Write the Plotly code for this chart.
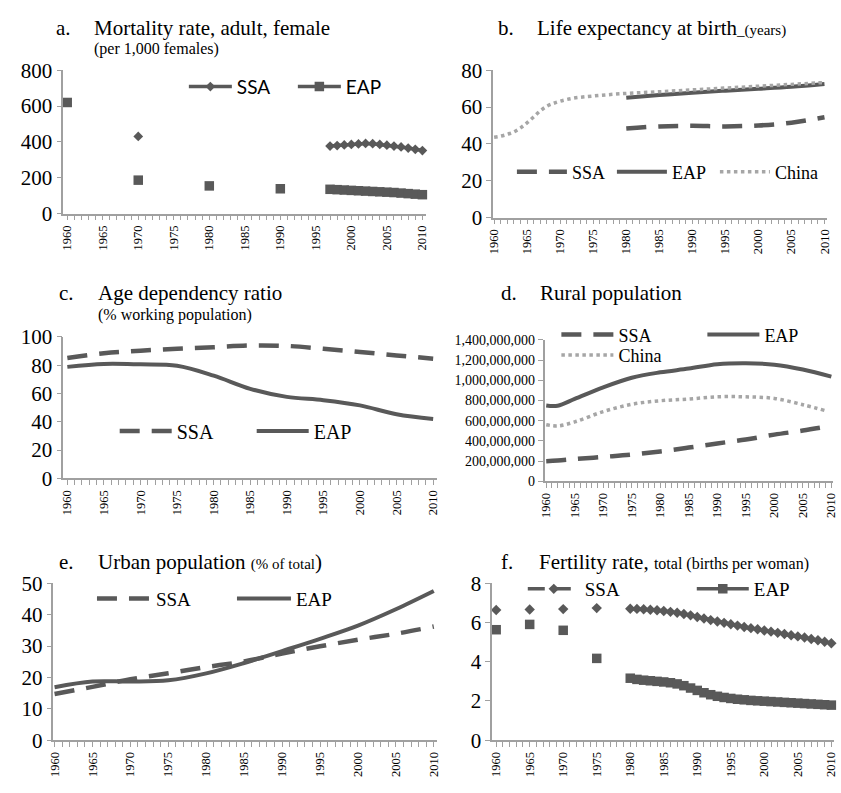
import plotly.graph_objects as go

W, H = 841, 793
SERIF = "Liberation Serif"
SANS = "Lato"
DARK = "#595959"
LIGHT = "#a6a6a6"
AXIS = "#a0a0a0"
YEARS = list(range(1960, 2011))


def annual(years, values):
    m = dict(zip(years, values))
    return [m.get(y) for y in YEARS]


# ---------------- data ----------------
# a. Mortality rate, adult, female (per 1,000 females)
mort_ssa_years = [1970] + list(range(1997, 2011))
mort_ssa = [431, 377, 380, 383, 386, 389, 392, 390, 386, 382, 377, 372, 366, 359, 352]
mort_eap_years = [1960, 1970, 1980, 1990] + list(range(1997, 2011))
mort_eap = [620, 187, 155, 139, 136, 134, 132, 130, 128, 126, 124, 122, 120, 118, 115, 112, 109, 106]

# b. Life expectancy at birth (years)
life_china_years = [1960, 1961, 1962, 1963, 1964, 1965, 1966, 1967, 1968, 1969, 1970, 1972, 1975,
                    1980, 1985, 1990, 1995, 2000, 2005, 2010]
life_china = [43.6, 44.2, 45.2, 46.5, 48.7, 51.5, 54.7, 58.0, 60.5, 62.0, 63.2, 64.8, 66.0,
              67.4, 68.3, 69.3, 70.3, 71.3, 72.3, 73.3]
life_years = [1980, 1985, 1990, 1995, 2000, 2005, 2010]
life_eap = [65.0, 66.5, 67.8, 68.9, 69.9, 71.0, 72.5]
life_ssa = [48.3, 49.5, 49.8, 49.5, 50.0, 51.5, 54.5]

# c. Age dependency ratio (% working population)
dep_years = [1960, 1965, 1970, 1975, 1980, 1985, 1990, 1995, 2000, 2005, 2010]
dep_ssa = [85.1, 88.4, 90.2, 91.6, 92.7, 93.9, 93.6, 91.6, 89.3, 86.9, 84.6]
dep_eap = [78.8, 80.9, 80.6, 79.6, 72.6, 63.3, 57.6, 55.3, 51.6, 45.3, 42.0]

# d. Rural population (millions)
rural_years = [1960, 1962, 1965, 1970, 1975, 1980, 1985, 1990, 1995, 2000, 2005, 2010]
rural_ssa_m = [200, 206, 220, 242, 264, 296, 334, 375, 413, 462, 502, 548]
rural_eap_m = [750, 748, 815, 930, 1025, 1078, 1115, 1158, 1168, 1154, 1106, 1035]
rural_china_years = [1960, 1962, 1965, 1970, 1975, 1980, 1985, 1990, 1995, 2000, 2005, 2009]
rural_china_m = [560, 548, 588, 690, 762, 797, 814, 836, 836, 820, 758, 698]

# e. Urban population (% of total)
urban_years = [1960, 1965, 1970, 1975, 1980, 1985, 1990, 1995, 2000, 2005, 2010]
urban_ssa = [14.7, 17.0, 19.4, 21.3, 23.3, 25.1, 27.6, 29.9, 32.0, 33.9, 36.2]
urban_eap = [16.9, 18.7, 18.7, 19.1, 21.3, 24.6, 28.4, 32.3, 36.5, 41.7, 47.5]

# f. Fertility rate, total (births per woman)
fert_years = [1960, 1965, 1970, 1975] + list(range(1980, 2011))
fert_ssa = [6.63, 6.66, 6.68, 6.73,
            6.70, 6.69, 6.67, 6.65, 6.62, 6.58, 6.54, 6.49, 6.43, 6.36, 6.28, 6.20, 6.12, 6.05,
            5.98, 5.91, 5.84, 5.77, 5.71, 5.65, 5.59, 5.53, 5.47, 5.41, 5.35, 5.29, 5.23, 5.16,
            5.09, 5.02, 4.94]
fert_eap = [5.63, 5.90, 5.60, 4.17,
            3.16, 3.10, 3.06, 3.03, 3.00, 2.97, 2.93, 2.87, 2.78, 2.66, 2.54, 2.42, 2.32, 2.24,
            2.18, 2.13, 2.09, 2.06, 2.03, 2.01, 1.99, 1.97, 1.95, 1.93, 1.91, 1.89, 1.87, 1.85,
            1.83, 1.81, 1.79]

# ---------------- figure ----------------
fig = go.Figure()
DASH = "20px,12px"


def lw(spacing, itemwidth):
    # width of the text part of a legend entry, so that entries are `spacing` px apart
    return spacing - itemwidth - 15


# a
fig.add_trace(go.Scatter(x=YEARS, y=annual(mort_ssa_years, mort_ssa), name="SSA", mode="lines+markers",
                         line=dict(color=DARK, width=3.5), marker=dict(symbol="diamond", size=7.5, color=DARK),
                         xaxis="x", yaxis="y", legend="legend", legendwidth=lw(109, 43), cliponaxis=False))
fig.add_trace(go.Scatter(x=YEARS, y=annual(mort_eap_years, mort_eap), name="EAP", mode="lines+markers",
                         line=dict(color=DARK, width=3.5), marker=dict(symbol="square", size=9.5, color=DARK),
                         xaxis="x", yaxis="y", legend="legend", cliponaxis=False))
# b
fig.add_trace(go.Scatter(x=life_years, y=life_ssa, name="SSA", mode="lines",
                         line=dict(color=DARK, width=4.5, dash=DASH, shape="spline"),
                         xaxis="x2", yaxis="y2", legend="legend2", legendwidth=lw(100, 50)))
fig.add_trace(go.Scatter(x=life_years, y=life_eap, name="EAP", mode="lines",
                         line=dict(color=DARK, width=4, shape="spline"),
                         xaxis="x2", yaxis="y2", legend="legend2", legendwidth=lw(103, 50)))
fig.add_trace(go.Scatter(x=life_china_years, y=life_china, name="China", mode="lines",
                         line=dict(color=LIGHT, width=3.5, dash="dot", shape="spline"),
                         xaxis="x2", yaxis="y2", legend="legend2"))
# c
fig.add_trace(go.Scatter(x=dep_years, y=dep_ssa, name="SSA", mode="lines",
                         line=dict(color=DARK, width=4.5, dash=DASH, shape="spline"),
                         xaxis="x3", yaxis="y3", legend="legend3", legendwidth=lw(137, 52)))
fig.add_trace(go.Scatter(x=dep_years, y=dep_eap, name="EAP", mode="lines",
                         line=dict(color=DARK, width=4, shape="spline"),
                         xaxis="x3", yaxis="y3", legend="legend3"))
# d
fig.add_trace(go.Scatter(x=rural_years, y=[v * 1e6 for v in rural_ssa_m], name="SSA", mode="lines",
                         line=dict(color=DARK, width=4.5, dash=DASH, shape="spline"),
                         xaxis="x4", yaxis="y4", legend="legend4", legendwidth=lw(146, 52)))
fig.add_trace(go.Scatter(x=rural_years, y=[v * 1e6 for v in rural_eap_m], name="EAP", mode="lines",
                         line=dict(color=DARK, width=4, shape="spline"),
                         xaxis="x4", yaxis="y4", legend="legend4"))
fig.add_trace(go.Scatter(x=rural_china_years, y=[v * 1e6 for v in rural_china_m], name="China", mode="lines",
                         line=dict(color=LIGHT, width=3.5, dash="dot", shape="spline"),
                         xaxis="x4", yaxis="y4", legend="legend5"))
# e
fig.add_trace(go.Scatter(x=urban_years, y=urban_ssa, name="SSA", mode="lines",
                         line=dict(color=DARK, width=4.5, dash=DASH, shape="spline"),
                         xaxis="x5", yaxis="y5", legend="legend6", legendwidth=lw(140, 54)))
fig.add_trace(go.Scatter(x=urban_years, y=urban_eap, name="EAP", mode="lines",
                         line=dict(color=DARK, width=4, shape="spline"),
                         xaxis="x5", yaxis="y5", legend="legend6"))
# f
fig.add_trace(go.Scatter(x=YEARS, y=annual(fert_years, fert_ssa), name="SSA", mode="lines+markers",
                         line=dict(color=DARK, width=3.5, dash="17px,9px"), marker=dict(symbol="diamond", size=8, color=DARK),
                         xaxis="x6", yaxis="y6", legend="legend7", legendwidth=lw(169, 52), cliponaxis=False))
fig.add_trace(go.Scatter(x=YEARS, y=annual(fert_years, fert_eap), name="EAP", mode="lines+markers",
                         line=dict(color=DARK, width=3.5), marker=dict(symbol="square", size=9.5, color=DARK),
                         xaxis="x6", yaxis="y6", legend="legend7", cliponaxis=False))


def fx(px):
    return px / W


def fy(py):
    return 1 - py / H


def xax(left, right, rng, anchor):
    return dict(domain=[fx(left), fx(right)], range=rng, anchor=anchor,
                tickmode="linear", tick0=1960, dtick=5, tickangle=-90,
                ticks="outside", ticklen=5, tickwidth=1, tickcolor=AXIS,
                minor=dict(dtick=1, ticks="outside", ticklen=5, tickwidth=1, tickcolor=AXIS),
                showline=True, linecolor=AXIS, linewidth=1.5, showgrid=False, zeroline=False,
                tickfont=dict(family=SERIF, size=12.5, color="black"))


def yax(top, bottom, rng, dtick, anchor, size=21, fmt=None):
    d = dict(domain=[fy(bottom), fy(top)], range=rng, anchor=anchor, dtick=dtick, tick0=0,
             ticks="outside", ticklen=5, tickwidth=1, tickcolor=AXIS,
             showline=True, linecolor=AXIS, linewidth=1.5, showgrid=False, zeroline=False,
             tickfont=dict(family=SERIF, size=size, color="black"))
    if fmt:
        d["tickformat"] = fmt
    return d


def leg(xpx, ypx, size, family=SERIF, itemwidth=50):
    return dict(x=fx(xpx), y=fy(ypx), xanchor="left", yanchor="middle", orientation="h",
                font=dict(family=family, size=size, color="black"), itemwidth=itemwidth,
                bgcolor="rgba(0,0,0,0)", borderwidth=0, traceorder="normal")


layout = dict(
    width=W, height=H, margin=dict(l=0, r=0, t=0, b=0), autosize=False,
    paper_bgcolor="white", plot_bgcolor="white",
    font=dict(family=SERIF, color="black"),
    xaxis=xax(58, 425, [1959.45, 2010.5], "y"),
    yaxis=yax(60, 208, [0, 800], 200, "x"),
    xaxis2=xax(493, 831, [1959.85, 2010.4], "y2"),
    yaxis2=yax(60, 212, [0, 80], 20, "x2"),
    xaxis3=xax(58, 436, [1959.45, 2010.5], "y3"),
    yaxis3=yax(335, 481, [0, 100], 20, "x3"),
    xaxis4=xax(545, 837, [1959.7, 2010.3], "y4"),
    yaxis4=yax(338, 484, [0, 1.4e9], 2e8, "x4", size=14, fmt=",d"),
    xaxis5=xax(48, 436, [1959.85, 2010.4], "y5"),
    yaxis5=yax(589, 751, [0, 50], 10, "x5"),
    xaxis6=xax(492, 838, [1959.4, 2010.4], "y6"),
    yaxis6=yax(589, 751, [0, 8], 2, "x6"),
    legend=leg(180, 77, 19, SANS, itemwidth=43),
    legend2=leg(512, 165, 18, itemwidth=50),
    legend3=leg(110, 432, 20, itemwidth=52),
    legend4=leg(557, 333, 18, itemwidth=52),
    legend5=leg(557, 354, 18, itemwidth=52),
    legend6=leg(87, 605, 19, itemwidth=54),
    legend7=leg(523, 595, 19, itemwidth=52),
)
fig.update_layout(**layout)


def title(xpx, ypx, text, size):
    fig.add_annotation(x=fx(xpx), y=fy(ypx), xref="paper", yref="paper", xanchor="left", yanchor="middle",
                       text=text, showarrow=False, font=dict(family=SERIF, size=size, color="black"))


title(49, 17, "a.", 21)
title(87, 17, "Mortality rate, adult, female", 21)
title(87, 38, "(per 1,000 females)", 16)
title(496, 17, "b.", 21)
title(535, 17, "Life expectancy at birth<span style='font-size:15px'>_(years)</span>", 21)
title(52, 290, "c.", 21)
title(91, 290, "Age dependency ratio", 21)
title(91, 312, "(% working population)", 16)
title(499, 290, "d.", 21)
title(538, 290, "Rural population", 21)
title(52, 567, "e.", 21)
title(91, 567, "Urban population <span style='font-size:15px'>(% of total</span>)", 21)
title(499, 567, "f.", 21)
title(537, 567, "Fertility rate, <span style='font-size:16px'>total (births per woman)</span>", 21)

fig.write_html("out.html", config={"displayModeBar": False},
               post_script="document.body.style.margin='0px';document.body.style.overflow='hidden';")
